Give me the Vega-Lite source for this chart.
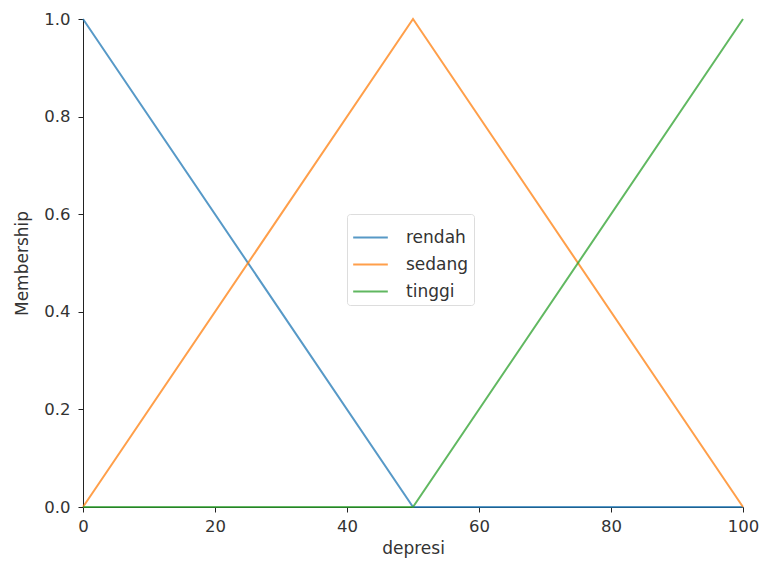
{
  "$schema": "https://vega.github.io/schema/vega-lite/v6.json",
  "width": 660,
  "height": 488,
  "autosize": {"type": "none"},
  "padding": {"left": 83, "top": 19, "right": 19, "bottom": 58},
  "background": "white",
  "config": {
    "view": {"stroke": null},
    "font": "DejaVu Sans",
    "axis": {
      "grid": false,
      "domainColor": "#222",
      "tickColor": "#222",
      "labelColor": "#333",
      "titleColor": "#333",
      "labelFontSize": 16.5,
      "titleFontSize": 17,
      "titleFontWeight": "normal",
      "tickSize": 5,
      "labelPadding": 6,
      "labelFlush": false,
      "labelOverlap": false
    }
  },
  "data": {
    "values": [
      {"x": 0, "m": 1, "s": "rendah"},
      {"x": 50, "m": 0, "s": "rendah"},
      {"x": 100, "m": 0, "s": "rendah"},
      {"x": 0, "m": 0, "s": "sedang"},
      {"x": 50, "m": 1, "s": "sedang"},
      {"x": 100, "m": 0, "s": "sedang"},
      {"x": 0, "m": 0, "s": "tinggi"},
      {"x": 50, "m": 0, "s": "tinggi"},
      {"x": 100, "m": 1, "s": "tinggi"}
    ]
  },
  "mark": {"type": "line", "strokeWidth": 2, "opacity": 0.75, "clip": false},
  "encoding": {
    "x": {
      "field": "x", "type": "quantitative",
      "scale": {"domain": [0, 100], "nice": false, "zero": false},
      "axis": {"values": [0, 20, 40, 60, 80, 100], "title": "depresi", "titlePadding": 6}
    },
    "y": {
      "field": "m", "type": "quantitative",
      "scale": {"domain": [0, 1], "nice": false},
      "axis": {"values": [0, 0.2, 0.4, 0.6, 0.8, 1.0], "format": ".1f", "title": "Membership", "titlePadding": 12, "labelPadding": 8}
    },
    "color": {
      "field": "s", "type": "nominal",
      "scale": {"domain": ["rendah", "sedang", "tinggi"], "range": ["#1f77b4", "#ff7f0e", "#2ca02c"]},
      "legend": {
        "orient": "none",
        "legendX": 264,
        "legendY": 195,
        "title": null,
        "symbolType": "stroke",
        "symbolSize": 1200,
        "symbolStrokeWidth": 2,
        "symbolOpacity": 0.75,
        "labelFontSize": 17,
        "labelColor": "#333",
        "rowPadding": 0,
        "strokeColor": "#dddddd",
        "fillColor": "white",
        "cornerRadius": 3,
        "padding": 5,
        "labelOffset": 17
      }
    }
  }
}
